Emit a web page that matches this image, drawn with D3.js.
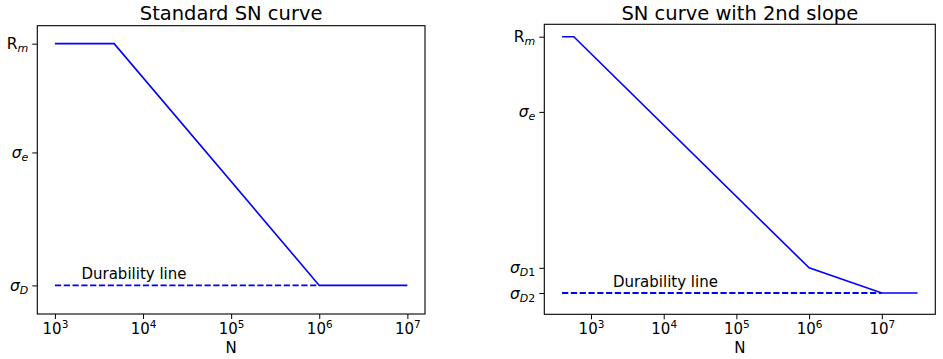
<!DOCTYPE html>
<html>
<head>
<meta charset="utf-8">
<script src="https://cdn.jsdelivr.net/npm/d3@7"></script>
<style>
  html, body { margin: 0; padding: 0; background: #fff; }
  svg { display: block; font-family: "DejaVu Sans", sans-serif; }
</style>
</head>
<body>
<svg id="chart" width="943" height="359"></svg>
<script>
// ---------- data ----------
const xTickValues = [1e3, 1e4, 1e5, 1e6, 1e7];
const xTickExponents = ["3", "4", "5", "6", "7"];

// Standard SN curve
const stdTitle = "Standard SN curve";
const stdN = [1e3, 4.7e3, 1e6, 1e7];
const stdS = [400, 400, 100, 100];
const stdDurN = [1e3, 1e6];
const stdDurS = [100, 100];
const stdYTicks = [400, 265, 100];
const stdYLabels = [["R", "m", false, ""], ["σ", "e", true, ""], ["σ", "D", true, ""]];
const stdYLim = [64.5, 422.3];

// SN curve with 2nd slope
const slpTitle = "SN curve with 2nd slope";
const slpN = [400, 580, 1e6, 1e7, 3.1e7];
const slpS = [400, 400, 129.5, 100, 100];
const slpDurN = [400, 1e7];
const slpDurS = [100, 100];
const slpYTicks = [400, 312, 129.5, 100];
const slpYLabels = [["R", "m", false, ""], ["σ", "e", true, ""], ["σ", "D", true, "1"], ["σ", "D", true, "2"]];
const slpYLim = [75.1, 414.5];

const durText = "Durability line";
const durTextN = 2000;
const xLabel = "N";

// ---------- drawing ----------
const svg = d3.select("#chart");
const blue = "#0000ff";

function panel(cfg) {
  const { left, right, top, bottom, N, S, durN, durS, yTicks, yLabels, yLim, title } = cfg;
  const lo = Math.log10(d3.min(N)), hi = Math.log10(d3.max(N));
  const m = (hi - lo) * 0.05;
  const x = d3.scaleLog().domain([Math.pow(10, lo - m), Math.pow(10, hi + m)]).range([left, right]);
  const y = d3.scaleLinear().domain(yLim).range([bottom, top]);
  const g = svg.append("g");

  // curve
  const line = d3.line().x((d, i) => x(N[i])).y((d, i) => y(S[i]));
  g.append("path").datum(N).attr("d", line)
    .attr("fill", "none").attr("stroke", blue).attr("stroke-width", 1.6)
    .attr("stroke-linejoin", "miter");

  // durability dashed line
  const dline = d3.line().x((d, i) => x(durN[i])).y((d, i) => y(durS[i]));
  g.append("path").datum(durN).attr("d", dline)
    .attr("fill", "none").attr("stroke", blue).attr("stroke-width", 1.9)
    .attr("stroke-dasharray", "6.2,2.6");

  g.append("text").attr("x", x(durTextN)).attr("y", y(durS[0]) - 6)
    .attr("font-size", 15).attr("fill", "#000").text(durText);

  // frame
  g.append("rect").attr("x", left).attr("y", top)
    .attr("width", right - left).attr("height", bottom - top)
    .attr("fill", "none").attr("stroke", "#000").attr("stroke-width", 1.1);

  // x axis
  const xa = g.append("g").attr("transform", `translate(0,${bottom})`)
    .call(d3.axisBottom(x).tickValues(xTickValues).tickSize(5).tickPadding(3).tickFormat(() => ""));
  xa.select(".domain").remove();
  xa.selectAll(".tick line").attr("stroke", "#000").attr("stroke-width", 1);
  xa.selectAll(".tick text").each(function(d, i) {
    const t = d3.select(this);
    t.text(null).attr("font-size", 15).attr("fill", "#000").attr("font-family", "DejaVu Sans")
      .attr("y", 0).attr("dy", null).attr("transform", "translate(0,20)");
    t.append("tspan").text("10");
    t.append("tspan").attr("font-size", 10.5).attr("dy", "-6").text(xTickExponents[i]);
  });

  // y axis
  const ya = g.append("g").attr("transform", `translate(${left},0)`)
    .call(d3.axisLeft(y).tickValues(yTicks).tickSize(5).tickPadding(4).tickFormat(() => ""));
  ya.select(".domain").remove();
  ya.selectAll(".tick line").attr("stroke", "#000").attr("stroke-width", 1);
  ya.selectAll(".tick text").each(function(d, i) {
    const t = d3.select(this);
    const lab = yLabels[i];
    t.text(null).attr("font-size", 15.5).attr("fill", "#000").attr("font-family", "DejaVu Sans")
      .attr("dy", null).attr("y", 5);
    t.append("tspan").attr("font-style", lab[2] ? "italic" : "normal").text(lab[0]);
    t.append("tspan").attr("font-size", 11).attr("font-style", "italic").attr("dy", 3).text(lab[1]);
    if (lab[3]) t.append("tspan").attr("font-size", 11).text(lab[3]);
  });

  // title
  g.append("text").attr("x", (left + right) / 2).attr("y", 20)
    .attr("text-anchor", "middle").attr("font-size", 19.5).attr("fill", "#000").text(title);

  // x label
  g.append("text").attr("x", (left + right) / 2).attr("y", 353)
    .attr("text-anchor", "middle").attr("font-size", 15).attr("fill", "#000").text(xLabel);
}

panel({ left: 37.3, right: 425, top: 25.7, bottom: 314, N: stdN, S: stdS, durN: stdDurN, durS: stdDurS,
        yTicks: stdYTicks, yLabels: stdYLabels, yLim: stdYLim, title: stdTitle });
panel({ left: 544.3, right: 935.3, top: 24.3, bottom: 314.3, N: slpN, S: slpS, durN: slpDurN, durS: slpDurS,
        yTicks: slpYTicks, yLabels: slpYLabels, yLim: slpYLim, title: slpTitle });
</script>
</body>
</html>
